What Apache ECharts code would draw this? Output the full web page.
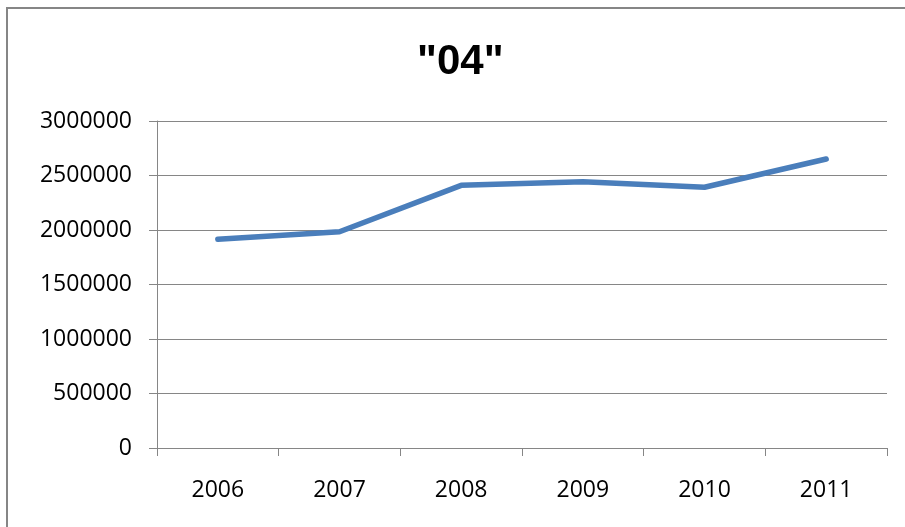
<!DOCTYPE html>
<html>
<head>
<meta charset="utf-8">
<script src="https://cdn.jsdelivr.net/npm/echarts@6/dist/echarts.min.js"></script>
<style>html,body{margin:0;padding:0;background:#fff;}#c{width:905px;height:527px;}</style>
</head>
<body>
<div id="c"></div>
<script>
const titleText = '"04"';
const categories = ['2006', '2007', '2008', '2009', '2010', '2011'];
const values = [1915000, 1984000, 2410000, 2443000, 2392000, 2651000];
const yMin = 0, yMax = 3000000, yInterval = 500000;

const chart = echarts.init(document.getElementById('c'), null, {renderer: 'canvas'});
chart.setOption({
  animation: false,
  backgroundColor: '#fff',
  graphic: [{
    type: 'rect',
    shape: {x: 7, y: 8, width: 920, height: 540},
    style: {fill: 'none', stroke: '#868686', lineWidth: 2}
  }],
  title: {
    text: titleText,
    left: 412,
    top: 36,
    textStyle: {fontFamily: 'Liberation Sans', fontWeight: 'bold', fontSize: 42, color: '#000'}
  },
  grid: {left: 157, right: 18, top: 121, bottom: 79},
  xAxis: {
    type: 'category',
    data: categories,
    boundaryGap: true,
    axisLine: {lineStyle: {color: '#868686', width: 1}},
    axisTick: {show: true, length: 8, lineStyle: {color: '#868686'}},
    axisLabel: {fontFamily: 'Open Sans', fontSize: 23, color: '#000', margin: 31}
  },
  yAxis: {
    type: 'value',
    min: yMin, max: yMax, interval: yInterval,
    axisLine: {show: true, lineStyle: {color: '#868686', width: 1}},
    axisTick: {show: true, length: 8, lineStyle: {color: '#868686'}},
    splitLine: {show: true, lineStyle: {color: '#868686', width: 1}},
    axisLabel: {fontFamily: 'Open Sans', fontSize: 23, color: '#000', margin: 25,
      formatter: function (v) { return String(v); }}
  },
  series: [{
    type: 'line',
    data: values,
    symbol: 'none',
    lineStyle: {color: '#4A7EBB', width: 5.5, cap: 'round', join: 'round'}
  }]
});
</script>
</body>
</html>
